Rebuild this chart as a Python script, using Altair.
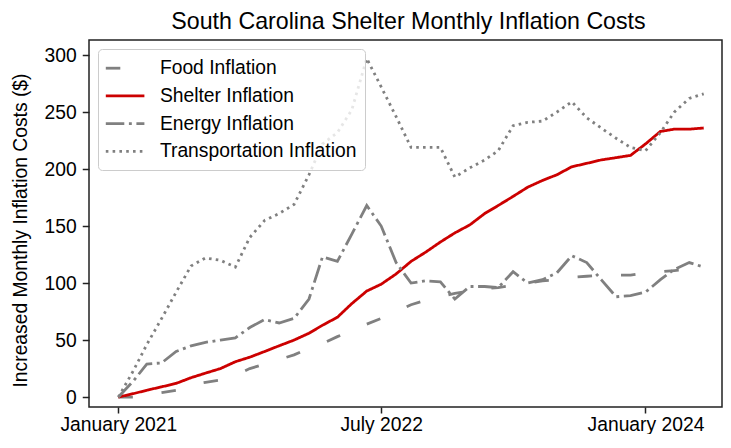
import altair as alt
import pandas as pd

# Monthly dates: January 2021 .. May 2024
months = pd.date_range("2021-01-01", periods=41, freq="MS").strftime("%Y-%m-%dT00:00:00").tolist()

series_names = ["Food Inflation", "Shelter Inflation", "Energy Inflation", "Transportation Inflation"]

food = [0, 0, 2, 4, 6, 11, 13, 15, 19, 25, 29, 33, 37, 43, 47, 53, 58, 64, 69, 75,
        81, 85, 88, 91, 93, 95, 96, 98, 100, 102, 103, 105, 106, 107, 107, 107, 109, 110, 111, 112, 112]
shelter = [0, 3, 6, 9, 12, 17, 21, 25, 31, 35, 40, 45, 50, 56, 63, 70, 82, 93, 99, 108,
           119, 127, 136, 144, 151, 161, 168, 176, 184, 190, 195, 202, 205, 208, 210, 212, 222, 233, 235, 235, 236]
energy = [0, 14, 29, 30, 40, 45, 48, 50, 52, 61, 68, 65, 69, 86, 123, 119, 143, 168, 150, 118,
          100, 102, 101, 86, 97, 97, 96, 110, 100, 103, 109, 124, 118, 103, 88, 89, 92, 103, 112, 118, 114]
transport = [0, 23, 46, 69, 92, 115, 122, 120, 114, 140, 155, 161, 169, 195, 222, 232, 252, 297, 272, 246,
             219, 219, 219, 193, 201, 208, 216, 238, 241, 242, 250, 259, 245, 236, 227, 219, 216, 232, 250, 262, 266]

y_ticks = [0, 50, 100, 150, 200, 250, 300]

rows = []
for name, vals in zip(series_names, [food, shelter, energy, transport]):
    for d, v in zip(months, vals):
        rows.append({"date": d, "series": name, "value": v})
df = pd.DataFrame(rows)

colors = ["#808080", "#cc0000", "#808080", "#808080"]
dashes = [[14.5, 29], [1, 0], [18.5, 4.6, 2.9, 4.6], [2.6, 4.2]]

x_ticks = [alt.DateTime(year=2021, month=1, date=1),
           alt.DateTime(year=2022, month=7, date=1),
           alt.DateTime(year=2024, month=1, date=1)]
x_domain = [alt.DateTime(year=2020, month=11, date=1),
            alt.DateTime(year=2024, month=6, date=8)]

FONT = "Liberation Sans"

legend = alt.Legend(
    title=None, orient="none", legendX=9, legendY=9,
    symbolType="M-1.93,0H1.93", symbolSize=400, symbolStrokeWidth=2.8,
    symbolOffset=7.9, labelOffset=23.3, padding=7.7, rowPadding=5.7,
    labelFontSize=19.3, labelFont=FONT, labelColor="#000", labelLimit=400,
    fillColor="rgba(255,255,255,0.8)", strokeColor="#cccccc", cornerRadius=4,
)

chart = alt.Chart(df).mark_line(strokeWidth=2.8).encode(
    x=alt.X("date:T",
            scale=alt.Scale(domain=x_domain, nice=False),
            axis=alt.Axis(values=x_ticks, format="%B %Y", title=None, labelFlush=False,
                          labelOverlap=False, labelPadding=2, tickSize=6)),
    y=alt.Y("value:Q",
            scale=alt.Scale(domain=[-8.7, 313.2], nice=False, zero=False),
            axis=alt.Axis(values=y_ticks, title="Increased Monthly Inflation Costs ($)",
                          titleAngle=270, titleX=-63, titleY=190, titleAlign="center",
                          titleBaseline="alphabetic", labelPadding=6)),
    color=alt.Color("series:N", sort=series_names,
                    scale=alt.Scale(domain=series_names, range=colors), legend=legend),
    strokeDash=alt.StrokeDash("series:N", sort=series_names,
                              scale=alt.Scale(domain=series_names, range=dashes), legend=legend),
).properties(
    width=633, height=367,
    padding={"left": 81, "top": 32, "right": 1, "bottom": 27},
    autosize=alt.AutoSizeParams(type="none"),
    title=alt.TitleParams(text="South Carolina Shelter Monthly Inflation Costs",
                          fontSize=23.2, font=FONT, fontWeight="normal", color="#000",
                          anchor="middle", dx=3, offset=6),
).configure_view(
    stroke="#222", strokeWidth=1.5
).configure_axis(
    domain=False, grid=False, tickColor="#222", tickWidth=1.5, tickSize=6.75,
    labelFont=FONT, labelFontSize=19.3, labelColor="#000",
    titleFont=FONT, titleFontSize=19.3, titleFontWeight="normal", titleColor="#000",
)

chart.save("out.html", embed_options={"renderer": "svg", "actions": False})
